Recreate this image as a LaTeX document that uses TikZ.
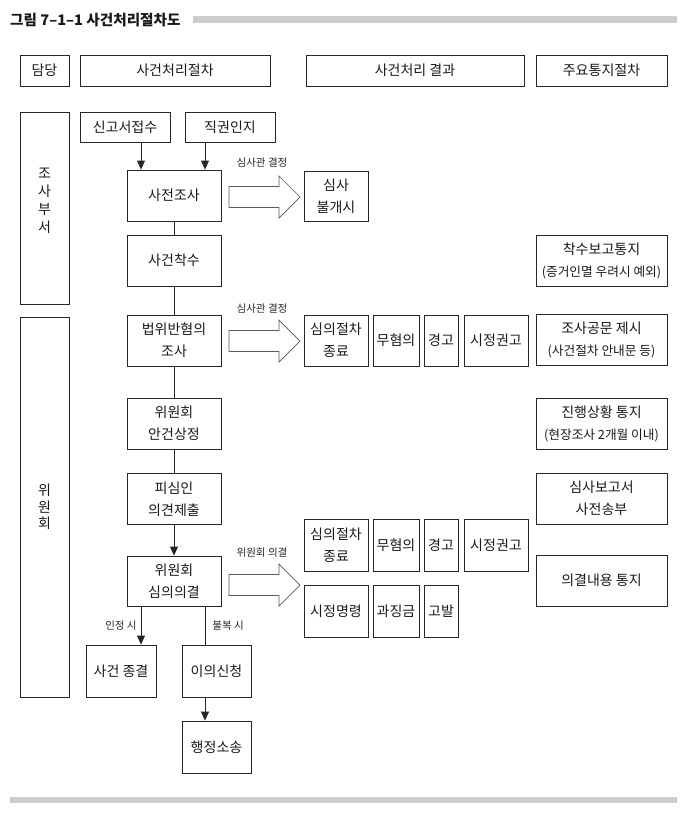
\documentclass[tikz,border=0pt]{standalone}
\usepackage{fontspec}
\setmainfont{Noto Sans CJK KR}
\usetikzlibrary{arrows.meta}

\tikzset{
  box/.style={draw=black!85, line width=0.8pt, align=center, inner sep=0pt,
    text=black!90, font=\fontsize{14}{22}\selectfont},
  flow/.style={box, minimum width=94pt, minimum height=51pt},
  res/.style={box, minimum height=51pt},
  note/.style={box, minimum width=131pt, minimum height=51pt},
  lbl/.style={text=black!85, font=\fontsize{10.5}{11}\selectfont, inner sep=0pt},
  conn/.style={draw=black!85, line width=0.8pt},
  arr/.style={conn, -{Triangle[length=9pt,width=8pt]}},
  hollow/.style={draw=black!65, line width=0.7pt, fill=white, line join=miter}
}
\newcommand{\subtxt}[1]{{\fontsize{12.7}{22}\selectfont #1}}

\begin{document}
\begin{tikzpicture}[x=1pt,y=-1pt]
  \useasboundingbox (0,0) rectangle (687,815);
  \fill[black!20] (193,16) rectangle (677,23);
  \fill[black!20] (10,797) rectangle (677,803);
  \node[anchor=west, inner sep=0pt, text=black!90, font=\bfseries\fontsize{14.6}{15}\selectfont] (title) at (10,20) {그림 7--1--1 사건처리절차도};

  \node[box, minimum width=49pt, minimum height=31pt] (hdam) at (44.5,70.5) {담당};
  \node[box, minimum width=190pt, minimum height=31pt] (hproc) at (175,70.5) {사건처리절차};
  \node[box, minimum width=218pt, minimum height=31pt] (hres) at (415,70.5) {사건처리 결과};
  \node[box, minimum width=131pt, minimum height=31pt] (hnote) at (601.5,70.5) {주요통지절차};

  \node[box, minimum width=49pt, minimum height=192pt,
    label={[yshift=7pt, align=center, inner sep=0pt, text=black!90, font=\fontsize{14}{18}\selectfont]center:조\\사\\부\\서}] (josa) at (44.5,208) {};
  \node[box, minimum width=49pt, minimum height=380pt, font=\fontsize{14}{16.5}\selectfont] (wiwon) at (44.5,507) {위\\원\\회};

  \node[box, minimum width=90pt, minimum height=30pt] (singo) at (125,127) {신고서접수};
  \node[box, minimum width=90pt, minimum height=30pt] (jikgwon) at (230,127) {직권인지};

  \node[flow] (sajeon) at (174,195.5) {사전조사};
  \node[flow] (chaksu) at (174,260.5) {사건착수};
  \node[flow] (beop) at (174,340.5) {법위반혐의\\조사};
  \node[flow] (angun) at (174,423.5) {위원회\\안건상정};
  \node[flow] (uigyeon) at (174,499) {피심인\\의견제출};
  \node[flow, minimum height=50pt] (uigyeol) at (174,581) {위원회\\심의의결};
  \node[box, minimum width=70pt, minimum height=52pt] (jonggyeol) at (121,671) {사건 종결};
  \node[box, minimum width=69pt, minimum height=52pt] (iui) at (216.5,671) {이의신청};
  \node[box, minimum width=69pt, minimum height=52pt] (sosong) at (216.5,747) {행정소송};

  \node[res, minimum width=64pt, minimum height=50pt] (bulgaesi) at (336,196) {심사\\불개시};
  \node[res, minimum width=64pt] (jongA) at (336,340.5) {심의절차\\종료};
  \node[res, minimum width=46pt] (muA) at (396,340.5) {무혐의};
  \node[res, minimum width=34pt] (gyeongA) at (441,340.5) {경고};
  \node[res, minimum width=64pt] (sigwonA) at (496,340.5) {시정권고};

  \node[res, minimum width=64pt, minimum height=52pt] (jongB) at (336,545) {심의절차\\종료};
  \node[res, minimum width=46pt, minimum height=52pt] (muB) at (396,545) {무혐의};
  \node[res, minimum width=34pt, minimum height=52pt] (gyeongB) at (441,545) {경고};
  \node[res, minimum width=64pt, minimum height=52pt] (sigwonB) at (496,545) {시정권고};
  \node[res, minimum width=64pt, minimum height=52pt] (simyeong) at (336,611) {시정명령};
  \node[res, minimum width=46pt, minimum height=52pt] (gwajing) at (396,611) {과징금};
  \node[res, minimum width=34pt, minimum height=52pt] (gobal) at (441,611) {고발};

  \node[note] (nchaksu) at (601.5,260.5) {착수보고통지\\\subtxt{(증거인멸 우려시 예외)}};
  \node[note] (njosa) at (601.5,339.5) {조사공문 제시\\\subtxt{(사건절차 안내문 등)}};
  \node[note] (njinhaeng) at (601.5,423.5) {진행상황 통지\\\subtxt{(현장조사 2개월 이내)}};
  \node[note] (nbogo) at (601.5,498.5) {심사보고서\\사전송부};
  \node[note] (nuigyeol) at (601.5,580.5) {의결내용 통지};

  \coordinate (la) at (141,0);
  \coordinate (lb) at (205,0);
  \draw[arr] (singo.south -| la) -- (sajeon.north -| la);
  \draw[arr] (jikgwon.south -| lb) -- (sajeon.north -| lb);
  \draw[conn] (sajeon) -- (chaksu);
  \draw[conn] (chaksu) -- (beop);
  \draw[conn] (beop) -- (angun);
  \draw[conn] (angun) -- (uigyeon);
  \draw[arr] (uigyeon) -- (uigyeol);
  \draw[arr] (uigyeol.south -| la) -- (jonggyeol.north -| la) node[lbl, midway, left=4pt] {인정 시};
  \draw[conn] (uigyeol.south -| lb) -- (iui.north -| lb) node[lbl, midway, right=7pt] {불복 시};
  \draw[arr] (iui.south -| lb) -- (sosong.north -| lb);

  \coordinate (ba1) at (229,197);
  \coordinate (ba2) at (229,341);
  \coordinate (ba3) at (229,585);
  \foreach \a in {ba1,ba2,ba3}
    \draw[hollow] (\a) ++(0,-10.5) -- ++(50,0) -- ++(0,-10.5) -- ++(21,21) -- ++(-21,21) -- ++(0,-10.5) -- ++(-50,0) -- cycle;
  \node[lbl] (dec1) at (262,163) {심사관 결정};
  \node[lbl] (dec2) at (262,309) {심사관 결정};
  \node[lbl] (dec3) at (262,553) {위원회 의결};
\end{tikzpicture}
\end{document}
